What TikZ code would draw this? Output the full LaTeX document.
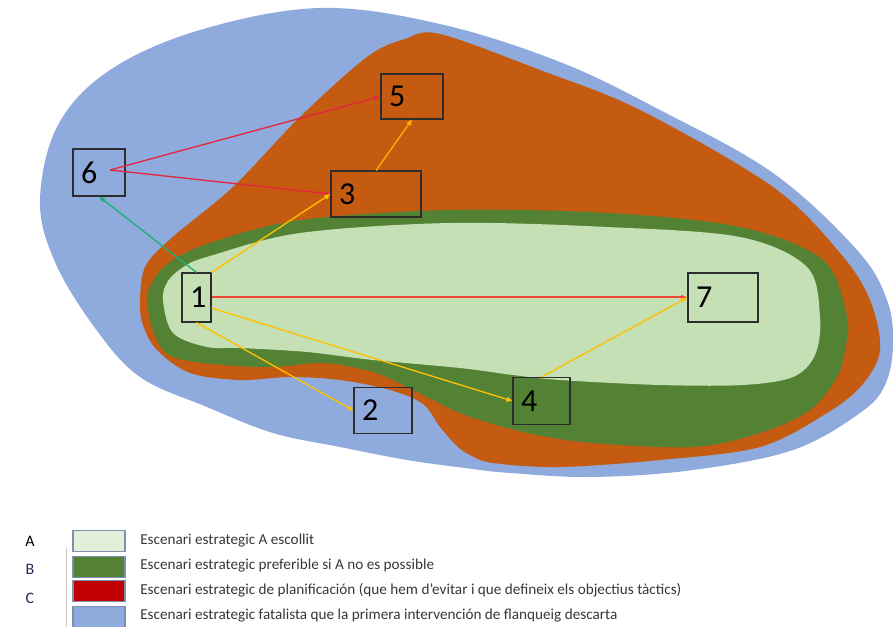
\documentclass[tikz,border=0pt]{standalone}
\usepackage{fontspec}
\setmainfont{Carlito}
\usetikzlibrary{arrows.meta}

\begin{document}
\begin{tikzpicture}[x=0.75pt,y=0.75pt,yscale=-1,xscale=1,
    box/.style={draw={rgb, 255:red, 45; green, 45; blue, 45 }, line width=0.8, inner xsep=6pt, inner ysep=0pt, align=left, font=\fontsize{24}{24}\selectfont},
    link/.style={line width=1, -{Triangle[length=4.5pt,width=3.6pt]}},
    key/.style={draw={rgb, 255:red, 125; green, 145; blue, 175 }, line width=0.8, minimum width=39pt, minimum height=16pt, inner sep=0pt},
    keytext/.style={anchor=west, inner sep=0pt, text={rgb, 255:red, 55; green, 55; blue, 55 }, font=\fontsize{11.4}{13}\selectfont},
    keyletter/.style={inner sep=0pt, font=\fontsize{12}{13}\selectfont}
  ]
    \useasboundingbox (0,0) rectangle (893,627);

    %Shape: Polygon Curved (blue)
    \fill [fill={rgb, 255:red, 143; green, 170; blue, 220 }] plot [smooth cycle, tension=0.6] coordinates {(40,200) (58,125) (110,70) (200,30) (320,8) (440,24) (560,62) (660,110) (773,173) (857,250) (887,300) (893,345) (885,385) (860,413) (793,450) (693,470) (593,477) (510,473) (465,468) (407,460) (340,447) (273,433) (207,407) (140,377) (95,328) (55,262)};
    %Shape: Polygon Curved (orange)
    \fill [fill={rgb, 255:red, 197; green, 90; blue, 17 }] plot [smooth cycle, tension=0.55] coordinates {(140,300) (146,265) (175,235) (233,187) (300,117) (367,57) (405,39) (440,34) (540,70) (640,110) (773,187) (840,253) (870,300) (880,350) (862,385) (827,413) (760,447) (660,460) (560,467) (493,463) (470,455) (457,446) (440,427) (423,404) (390,390) (340,380) (290,377) (240,380) (190,373) (157,350) (143,325)};
    %Shape: Polygon Curved (green)
    \fill [fill={rgb, 255:red, 84; green, 130; blue, 53 }] plot [smooth cycle, tension=0.55] coordinates {(147,300) (153,281) (170,262) (210,243) (300,220) (450,210) (607,213) (740,227) (823,260) (847,317) (845,350) (837,377) (810,410) (760,433) (693,447) (593,443) (527,433) (465,415) (433,400) (407,387) (373,372) (323,363) (273,367) (223,365) (173,357) (155,336)};
    %Shape: Polygon Curved (light green)
    \fill [fill={rgb, 255:red, 197; green, 224; blue, 180 }] plot [smooth cycle, tension=0.55] coordinates {(163,300) (168,281) (185,266) (210,256) (300,233) (450,223) (607,227) (740,237) (807,267) (820,317) (815,355) (793,377) (743,385) (660,385) (560,380) (513,375) (460,368) (373,360) (307,352) (240,348) (207,347) (173,333)};

    %Boxes
    \node [box, text width=9.75pt, minimum height=36.75pt] (b1) at (196.5,297.5) {1};
    \node [box, text width=31.5pt, minimum height=34.5pt] (b2) at (383,410.5) {2};
    \node [box, text width=55.5pt, minimum height=34.5pt] (b3) at (376,194) {3};
    \node [box, text width=30.75pt, minimum height=35.25pt] (b4) at (541.5,401) {4};
    \node [box, text width=34.5pt, minimum height=33.75pt] (b5) at (412,96.5) {5};
    \node [box, text width=27pt, minimum height=35.25pt] (b6) at (99,172.5) {6};
    \node [box, text width=40.5pt, minimum height=36.75pt] (b7) at (723,297.5) {7};
    \coordinate (s6) at (110,170);

    %Straight Lines
    \draw [link, color={rgb, 255:red, 228; green, 38; blue, 62 }] (s6) -- (b5.west);
    \draw [link, color={rgb, 255:red, 228; green, 38; blue, 62 }] (s6) -- (b3.west);
    \draw [link, color={rgb, 255:red, 30; green, 175; blue, 115 }] (b1.north) -- (b6.south);
    \draw [link, color={rgb, 255:red, 255; green, 192; blue, 0 }] (b1.north east) -- (b3.west);
    \draw [link, color={rgb, 255:red, 255; green, 175; blue, 0 }] (b3.north) -- (b5.south);
    \draw [link, line width=1.5, color={rgb, 255:red, 240; green, 70; blue, 50 }] (b1.east) -- (b7.west);
    \draw [link, color={rgb, 255:red, 255; green, 192; blue, 0 }] (b1.-35) -- (b4.west);
    \draw [link, color={rgb, 255:red, 255; green, 192; blue, 0 }] (b1.south) -- (b2.west);
    \draw [link, color={rgb, 255:red, 255; green, 192; blue, 0 }] (b4.north) -- (b7.west);

    %Legend
    \draw [color={rgb, 255:red, 200; green, 200; blue, 200 }] (66,548) -- (66,627);
    \node [keyletter] (la) at (30,541) {A};
    \node [keyletter, text={rgb, 255:red, 35; green, 45; blue, 90 }] (lb) at (30,569) {B};
    \node [keyletter, text={rgb, 255:red, 35; green, 45; blue, 90 }] (lc) at (30,598) {C};
    \node [key, fill={rgb, 255:red, 226; green, 240; blue, 217 }] (ka) at (99,541) {};
    \node [key, fill={rgb, 255:red, 84; green, 130; blue, 53 }] (kb) at (99,567) {};
    \node [key, fill={rgb, 255:red, 192; green, 0; blue, 0 }] (kc) at (99,591) {};
    \node [key, fill={rgb, 255:red, 143; green, 170; blue, 220 }] (kd) at (99,617) {};
    \node [keytext] (ta) at (140,541) {Escenari estrategic A escollit};
    \node [keytext] (tb) at (140,566) {Escenari estrategic preferible si A no es possible};
    \node [keytext] (tc) at (140,590) {Escenari estrategic de planificación (que hem d’evitar i que defineix els objectius tàctics)};
    \node [keytext] (td) at (140,616) {Escenari estrategic fatalista que la primera intervención de flanqueig descarta};
\end{tikzpicture}
\end{document}
